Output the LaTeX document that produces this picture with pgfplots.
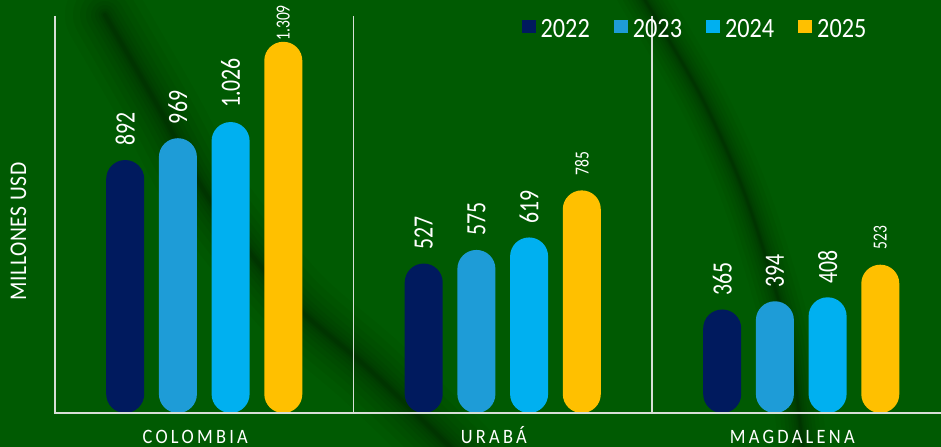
\documentclass[border=0pt]{standalone}
\usepackage{fontspec}
\setmainfont{Carlito}
\newfontfamily\valfont[FakeStretch=0.78]{Carlito}
\newfontfamily\legfont[FakeStretch=0.87]{Carlito}
\newfontfamily\catfont[FakeStretch=0.9,LetterSpace=16]{Carlito}
\newfontfamily\ylabfont[FakeStretch=0.9,LetterSpace=3]{Carlito}
\usepackage{pgfplots}
\pgfplotsset{compat=1.18}
\definecolor{bg}{RGB}{0,90,2}
\definecolor{c22}{RGB}{0,26,94}
\definecolor{c23}{RGB}{30,156,215}
\definecolor{c24}{RGB}{0,176,240}
\definecolor{c25}{RGB}{255,192,0}
\definecolor{gridc}{RGB}{215,222,215}
\tikzset{
  vlab big/.style={yshift=14bp, rotate=90, anchor=west, inner sep=0pt, text=white, font=\valfont\fontsize{28}{30}\selectfont},
}
\begin{document}
\begin{tikzpicture}
\fill[bg] (-55bp,-34bp) rectangle (886bp,413bp);
\begin{scope}
\clip (-55bp,-34bp) rectangle (886bp,413bp);
\foreach \w/\o in {80/0.03,64/0.035,50/0.04,38/0.045,28/0.05,20/0.055,13/0.06,8/0.065,4/0.07}{
  \draw[black,opacity=\o,line width=\w bp,line cap=round] plot[smooth] coordinates {(50bp,398bp) (105bp,303bp) (155bp,213bp) (235bp,113bp) (315bp,43bp) (395bp,-34bp) (420bp,-60bp)};
  \draw[black,opacity=\o,line width=0.6*\w bp,line cap=round] plot[smooth] coordinates {(580bp,430bp) (590bp,413bp) (648bp,313bp) (692bp,213bp) (732bp,80bp) (748bp,-34bp) (752bp,-60bp)};
}
\end{scope}
\begin{axis}[
  scale only axis, width=895.5bp, height=397bp,
  xmin=-0.5, xmax=2.5, ymin=0, ymax=1400,
  clip=false,
  axis line style={draw=none},
  major tick length=0pt,
  ytick=\empty,
  xtick={0,1,2},
  xticklabels={COLOMBIA,URABÁ,MAGDALENA},
  xticklabel style={anchor=base, yshift=-30bp, xshift=-9bp, inner sep=0pt, text depth=0pt, text=white, font=\catfont\fontsize{20.5}{22}\selectfont},
  ylabel={MILLONES USD},
  every axis y label/.style={at={(rel axis cs:0,0.457)}, xshift=-36.5bp, rotate=90, anchor=center, text=white, font=\ylabfont\fontsize{24}{26}\selectfont},
  ybar=14.7bp, bar width=38bp,
  legend image code/.code={\fill[#1,sharp corners] (0bp,-3.5bp) rectangle (14bp,9.5bp);},
  legend style={at={(rel axis cs:0.7164,0.967)}, anchor=center, draw=none, fill=none, text=white,
    font=\legfont\fontsize{28}{30}\selectfont, legend columns=4,
    nodes={inner xsep=5bp},
    /tikz/every even column/.append style={column sep=19bp}},
  nodes near coords,
  /pgf/number format/.cd, 1000 sep={.}, assume math mode=true, /pgfplots/.cd,
]
\addplot[fill=c22, draw=none, rounded corners=18.9bp, every node near coord/.append style={vlab big}] coordinates {(0,892) (1,527) (2,365)};
\addplot[fill=c23, draw=none, rounded corners=18.9bp, every node near coord/.append style={vlab big}] coordinates {(0,969) (1,575) (2,394)};
\addplot[fill=c24, draw=none, rounded corners=18.9bp, every node near coord/.append style={vlab big}] coordinates {(0,1026) (1,619) (2,408)};
\addplot[fill=c25, draw=none, rounded corners=18.9bp,
  visualization depends on={rawy \as \rawy},
  every node near coord/.append style={yshift={\rawy>1200 ? 1 : 15}, rotate=90, anchor=west, inner sep=0pt, text=white, font=\valfont\fontsize{20}{22}\selectfont}] coordinates {(0,1309) (1,785) (2,523)};
\legend{2022,2023,2024,2025}
\draw[gridc, line width=1.5bp] (axis cs:-0.5,1400) -- (axis cs:-0.5,0) -- (axis cs:2.5,0);
\draw[gridc, line width=1.5bp] (axis cs:0.5,1400) -- (axis cs:0.5,0);
\draw[gridc, line width=1.5bp] (axis cs:1.5,1400) -- (axis cs:1.5,0);
\end{axis}
\pgfresetboundingbox
\path (-55bp,-34bp) rectangle (886bp,413bp);
\end{tikzpicture}
\end{document}
